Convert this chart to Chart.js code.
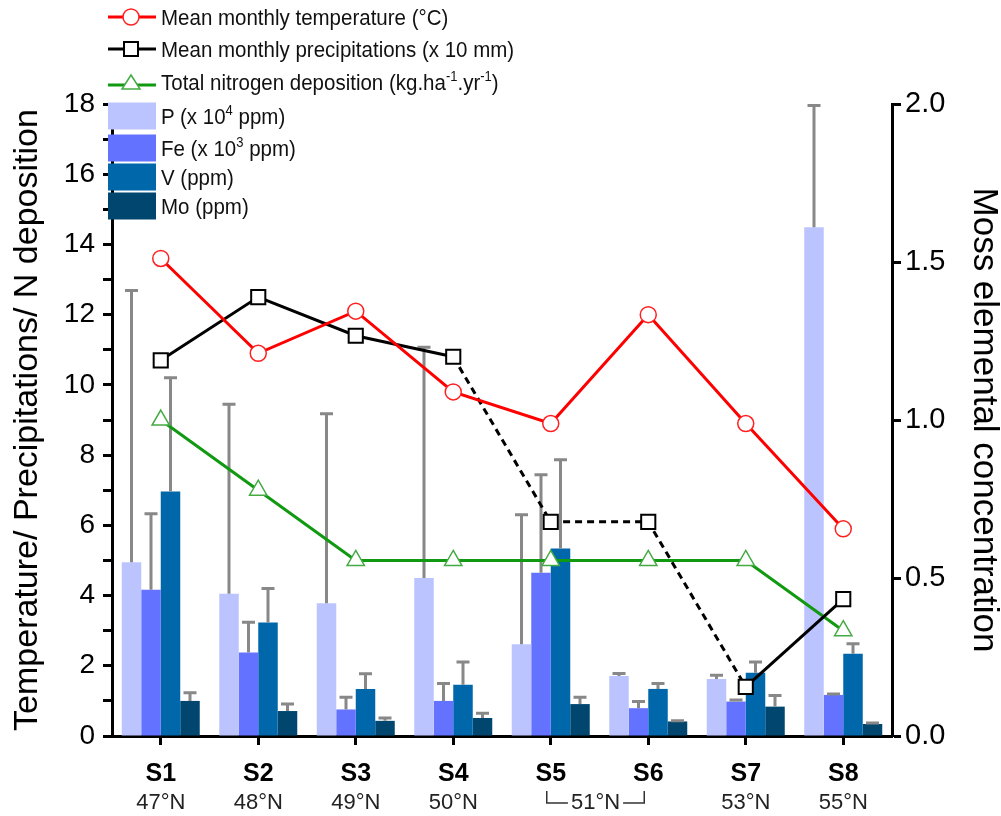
<!DOCTYPE html>
<html>
<head>
<meta charset="utf-8">
<script src="https://cdn.jsdelivr.net/npm/chart.js@4.4.1/dist/chart.umd.min.js"></script>
<style>
  body { margin: 0; background: #fff; }
  #wrap { position: relative; width: 1001px; height: 816px; }
  #legend { position: absolute; left: 0; top: 0; font-family: "Liberation Sans", Arial, sans-serif; font-size: 20.5px; color: #111; }
  .item { position: absolute; left: 108px; height: 28px; display: flex; align-items: center; white-space: pre; }
  .item span { display: inline-block; transform: scaleY(1.12); transform-origin: left center; }
  .item svg { width: 48px; height: 28px; margin-right: 5px; flex: none; }
  sup { font-size: 13px; vertical-align: 8px; line-height: 0; }
</style>
</head>
<body>
<div id="wrap">
  <canvas id="grafico" width="1001" height="816"></canvas>
  <div id="legend">
    <div class="item" style="top:3px">
      <svg viewBox="0 0 48 28"><line x1="0" y1="14" x2="48" y2="14" stroke="#ff0000" stroke-width="3"/><circle cx="23" cy="14" r="8" fill="#fff" stroke="#ff2020" stroke-width="1.5"/></svg><span>Mean monthly temperature (°C)</span>
    </div>
    <div class="item" style="top:35px">
      <svg viewBox="0 0 48 28"><line x1="0" y1="14" x2="48" y2="14" stroke="#000" stroke-width="3"/><rect x="16" y="7" width="14" height="14" fill="#fff" stroke="#000" stroke-width="2"/></svg><span>Mean monthly precipitations (x 10 mm)</span>
    </div>
    <div class="item" style="top:68px">
      <svg viewBox="0 0 48 28"><line x1="0" y1="17" x2="48" y2="17" stroke="#119911" stroke-width="3"/><polygon points="23,7 32,21 14,21" fill="#fff" stroke="#44aa44" stroke-width="1.5"/></svg><span>Total nitrogen deposition (kg.ha<sup>-1</sup>.yr<sup>-1</sup>)</span>
    </div>
    <div class="item" style="top:102px">
      <svg viewBox="0 0 48 28"><rect x="0" y="0.5" width="48" height="27" fill="#bbc4ff"/></svg><span>P (x 10<sup>4</sup> ppm)</span>
    </div>
    <div class="item" style="top:134px">
      <svg viewBox="0 0 48 28"><rect x="0" y="0.5" width="48" height="27" fill="#6372ff"/></svg><span>Fe (x 10<sup>3</sup> ppm)</span>
    </div>
    <div class="item" style="top:163px">
      <svg viewBox="0 0 48 28"><rect x="0" y="0.5" width="48" height="27" fill="#0067ab"/></svg><span>V (ppm)</span>
    </div>
    <div class="item" style="top:192px">
      <svg viewBox="0 0 48 28"><rect x="0" y="0.5" width="48" height="27" fill="#00466f"/></svg><span>Mo (ppm)</span>
    </div>
  </div>
</div>
<script>
// Dados
const sites = ["S1", "S2", "S3", "S4", "S5", "S6", "S7", "S8"];
const latitudes = ["47°N", "48°N", "49°N", "50°N", "51°N", "51°N", "53°N", "55°N"];

// eixo da esquerda
const temperatura = [13.6, 10.9, 12.1, 9.8, 8.9, 12.0, 8.9, 5.9];
const precipitacao = [10.7, 12.5, 11.4, 10.8, 6.1, 6.1, 1.4, 3.9];
const deposicaoN = [9, 7, 5, 5, 5, 5, 5, 3];

// eixo da direita (concentração nos musgos) + desvio
const fosforo = [0.55, 0.45, 0.42, 0.50, 0.29, 0.19, 0.18, 1.61];
const fosforoSd = [0.86, 0.60, 0.60, 0.73, 0.41, 0.008, 0.012, 0.385];
const ferro = [0.463, 0.264, 0.084, 0.111, 0.517, 0.088, 0.109, 0.13];
const ferroSd = [0.24, 0.096, 0.039, 0.055, 0.31, 0.021, 0.005, 0.003];
const vanadio = [0.774, 0.359, 0.149, 0.162, 0.593, 0.149, 0.2, 0.26];
const vanadioSd = [0.36, 0.108, 0.048, 0.072, 0.281, 0.017, 0.034, 0.032];
const molibdenio = [0.111, 0.079, 0.048, 0.057, 0.101, 0.046, 0.093, 0.038];
const molibdenioSd = [0.026, 0.022, 0.009, 0.015, 0.022, 0.002, 0.035, 0.003];

const leftTicks = { min: 0, max: 18, step: 1 };
const rightTicks = { min: 0, max: 2, step: 0.5 };

const fonte = '"Liberation Sans", Arial, sans-serif';

// barras de erro (só para cima)
const errorBars = {
  id: "errorBars",
  afterDatasetDraw(chart, args) {
    const ds = chart.data.datasets[args.index];
    if (!ds.errors) return;
    const ctx = chart.ctx;
    const scale = chart.scales[ds.yAxisID];
    ctx.save();
    ctx.strokeStyle = "#888888";
    ctx.lineWidth = 3;
    args.meta.data.forEach((bar, i) => {
      const yTop = scale.getPixelForValue(ds.data[i] + ds.errors[i]);
      ctx.beginPath();
      ctx.moveTo(bar.x, bar.y);
      ctx.lineTo(bar.x, yTop);
      ctx.moveTo(bar.x - 6.5, yTop);
      ctx.lineTo(bar.x + 6.5, yTop);
      ctx.stroke();
    });
    ctx.restore();
  }
};

// latitudes debaixo dos nomes dos sítios
const latitudeLabels = {
  id: "latitudeLabels",
  afterDraw(chart) {
    const ctx = chart.ctx;
    const x = chart.scales.x;
    const y = 803;
    ctx.save();
    ctx.font = "22px " + fonte;
    ctx.fillStyle = "#222";
    ctx.textAlign = "center";
    ctx.textBaseline = "middle";
    ctx.strokeStyle = "#333";
    ctx.lineWidth = 1.5;
    for (let i = 0; i < latitudes.length; i++) {
      if (i > 0 && latitudes[i] === latitudes[i - 1]) continue;
      if (latitudes[i] === latitudes[i + 1]) {
        const x0 = x.getPixelForValue(i) - 4;
        const x1 = x.getPixelForValue(i + 1) - 4;
        const mid = (x0 + x1) / 2;
        const half = ctx.measureText(latitudes[i]).width / 2 + 3;
        ctx.fillText(latitudes[i], mid, y);
        ctx.beginPath();
        ctx.moveTo(x0, 791);
        ctx.lineTo(x0, y);
        ctx.lineTo(mid - half, y);
        ctx.moveTo(mid + half, y);
        ctx.lineTo(x1, y);
        ctx.lineTo(x1, 791);
        ctx.stroke();
      } else {
        ctx.fillText(latitudes[i], x.getPixelForValue(i), y);
      }
    }
    ctx.restore();
  }
};

const tracejado = ctx => (ctx.p0DataIndex >= 3 && ctx.p0DataIndex < 6) ? [7, 5] : undefined;

function barra(label, data, sd, cor) {
  return {
    type: "bar",
    label: label,
    data: data,
    errors: sd,
    yAxisID: "y1",
    backgroundColor: cor,
    borderWidth: 0,
    barPercentage: 1.0,
    categoryPercentage: 0.8,
    order: 2
  };
}

const ctx = document.getElementById("grafico").getContext("2d");
new Chart(ctx, {
  type: "bar",
  data: {
    labels: sites,
    datasets: [
      {
        type: "line",
        label: "Mean monthly temperature (°C)",
        data: temperatura,
        yAxisID: "y",
        borderColor: "#ff0000",
        borderWidth: 3,
        pointStyle: "circle",
        pointRadius: 8,
        pointBorderWidth: 1.5,
        pointBorderColor: "#ff2020",
        pointBackgroundColor: "#ffffff",
        order: 0
      },
      {
        type: "line",
        label: "Mean monthly precipitations (x 10 mm)",
        data: precipitacao,
        yAxisID: "y",
        borderColor: "#000000",
        borderWidth: 3,
        segment: { borderDash: tracejado },
        pointStyle: "rect",
        pointRadius: 10,
        pointBorderWidth: 2,
        pointBorderColor: "#000000",
        pointBackgroundColor: "#ffffff",
        order: 1
      },
      {
        type: "line",
        label: "Total nitrogen deposition",
        data: deposicaoN,
        yAxisID: "y",
        borderColor: "#119911",
        borderWidth: 3,
        pointStyle: "triangle",
        pointRadius: 10,
        pointBorderWidth: 1.5,
        pointBorderColor: "#44aa44",
        pointBackgroundColor: "#ffffff",
        order: 1
      },
      barra("P (x 10^4 ppm)", fosforo, fosforoSd, "#bbc4ff"),
      barra("Fe (x 10^3 ppm)", ferro, ferroSd, "#6372ff"),
      barra("V (ppm)", vanadio, vanadioSd, "#0067ab"),
      barra("Mo (ppm)", molibdenio, molibdenioSd, "#00466f")
    ]
  },
  options: {
    responsive: false,
    animation: false,
    layout: { padding: { top: 104, left: 0, right: 0, bottom: 0 } },
    plugins: {
      legend: { display: false },
      tooltip: { enabled: false }
    },
    scales: {
      x: {
        offset: true,
        grid: { drawOnChartArea: false, offset: false, tickLength: 9, tickWidth: 3, tickColor: "#000" },
        border: { width: 3, color: "#000" },
        ticks: { font: { family: fonte, size: 25, weight: "bold" }, color: "#000", padding: 14 },
        afterFit: s => { s.height = 80; }
      },
      y: {
        position: "left",
        min: leftTicks.min,
        max: leftTicks.max,
        ticks: {
          stepSize: leftTicks.step,
          autoSkip: false,
          callback: v => (v % 2 === 0 ? v : ""),
          font: { family: fonte, size: 28 },
          color: "#000",
          padding: 8
        },
        grid: { drawOnChartArea: false, tickLength: 9, tickWidth: 3, tickColor: "#000" },
        border: { width: 3, color: "#000" },
        title: {
          display: true,
          text: "Temperature/ Precipitations/ N deposition",
          font: { family: fonte, size: 34, lineHeight: 1 },
          color: "#000",
          padding: { top: 11, bottom: 0 }
        },
        afterFit: s => { s.width = 112; }
      },
      y1: {
        position: "right",
        min: rightTicks.min,
        max: rightTicks.max,
        ticks: {
          stepSize: rightTicks.step,
          callback: v => v.toFixed(1),
          font: { family: fonte, size: 29 },
          color: "#000",
          padding: 4
        },
        grid: { drawOnChartArea: false, tickLength: 9, tickWidth: 3, tickColor: "#000" },
        border: { width: 3, color: "#000" },
        title: {
          display: true,
          text: "Moss elemental concentration",
          font: { family: fonte, size: 35, lineHeight: 1 },
          color: "#000",
          padding: { top: 0, bottom: 0 }
        },
        afterFit: s => { s.width = 109; }
      }
    }
  },
  plugins: [errorBars, latitudeLabels]
});
</script>
</body>
</html>
